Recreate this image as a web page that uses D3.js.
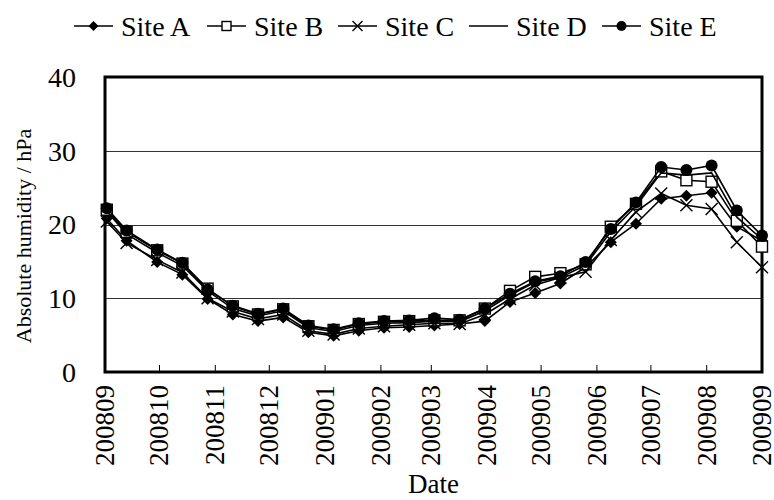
<!DOCTYPE html>
<html>
<head>
<meta charset="utf-8">
<script src="https://cdn.jsdelivr.net/npm/d3@7"></script>
<style>
  body { margin: 0; background: #fff; }
  svg { display: block; }
  svg text { font-family: "Liberation Serif", "Tinos", "DejaVu Serif", serif; fill: #000; }
</style>
</head>
<body>
<svg id="chart" width="774" height="500"></svg>
<script>
// sampling dates (roughly every two weeks)
const dates = [
  "2008-09-02", "2008-09-13", "2008-09-30", "2008-10-14", "2008-10-28",
  "2008-11-11", "2008-11-25", "2008-12-09", "2008-12-23", "2009-01-06",
  "2009-01-20", "2009-02-03", "2009-02-17", "2009-03-03", "2009-03-17",
  "2009-03-31", "2009-04-14", "2009-04-28", "2009-05-12", "2009-05-26",
  "2009-06-09", "2009-06-23", "2009-07-07", "2009-07-21", "2009-08-04",
  "2009-08-18", "2009-09-01",
];

const siteA = [20.8, 17.8, 14.9, 13.2, 9.9, 7.8, 6.9, 7.4, 5.4, 4.9, 5.6, 6.0, 6.1, 6.3, 6.5, 6.9, 9.5, 10.7, 12.0, 14.2, 17.6, 20.1, 23.5, 23.9, 24.3, 19.7, 17.8];
const siteB = [22.0, 19.0, 16.5, 14.7, 11.3, 8.9, 7.8, 8.5, 6.2, 5.7, 6.5, 6.8, 6.9, 7.0, 7.0, 8.6, 11.0, 12.9, 13.4, 14.6, 19.7, 22.8, 27.2, 26.0, 25.8, 20.5, 17.0];
const siteC = [20.4, 17.5, 15.2, 13.5, 10.0, 8.2, 7.2, 7.8, 5.6, 5.1, 5.9, 6.2, 6.4, 6.6, 6.5, 7.8, 9.9, 11.8, 12.8, 13.6, 17.9, 21.7, 24.2, 22.6, 22.1, 17.6, 14.2];
const siteD = [21.8, 18.7, 16.2, 14.4, 11.0, 8.6, 7.6, 8.3, 6.0, 5.5, 6.3, 6.6, 6.7, 6.9, 6.8, 8.3, 10.4, 12.2, 12.8, 14.5, 19.0, 22.5, 27.0, 26.7, 27.0, 21.0, 18.0];
const siteE = [22.2, 19.2, 16.6, 14.8, 11.2, 9.0, 7.9, 8.6, 6.3, 5.8, 6.6, 6.9, 7.0, 7.3, 7.1, 8.6, 10.6, 12.3, 13.0, 14.9, 19.4, 23.0, 27.8, 27.4, 28.0, 21.9, 18.5];

const seriesNames = ["Site A", "Site B", "Site C", "Site D", "Site E"];
const seriesValues = [siteA, siteB, siteC, siteD, siteE];
const seriesMarkers = ["diamond", "square", "cross", "none", "circle"];

const yTicks = [0, 10, 20, 30, 40];
const xTitle = "Date";
const yTitle = "Absolute humidity / hPa";

const parse = d3.timeParse("%Y-%m-%d");
const fmt = d3.timeFormat("%Y%m");

const svg = d3.select("#chart");
const plot = { left: 105, right: 762, top: 77, bottom: 372 };

const x = d3
  .scaleTime()
  .domain([new Date(2008, 8, 1), new Date(2009, 8, 1)])
  .range([plot.left, plot.right]);

const y = d3.scaleLinear().domain([0, 40]).range([plot.bottom, plot.top]);

// gridlines
svg
  .append("g")
  .selectAll("line")
  .data(yTicks.filter((t) => t > 0 && t < 40))
  .enter()
  .append("line")
  .attr("x1", plot.left)
  .attr("x2", plot.right)
  .attr("y1", (d) => Math.round(y(d)) + 0.5)
  .attr("y2", (d) => Math.round(y(d)) + 0.5)
  .style("stroke", "#333")
  .style("stroke-width", 1);

// x axis with inward ticks
const xAxis = d3
  .axisBottom(x)
  .ticks(d3.timeMonth.every(1))
  .tickFormat(fmt)
  .tickSizeInner(-7)
  .tickSizeOuter(0);

const gx = svg
  .append("g")
  .attr("transform", `translate(0,${plot.bottom})`)
  .call(xAxis);
gx.attr("font-family", null).attr("font-size", null);
gx.select(".domain").remove();
gx.selectAll(".tick line").style("stroke", "#000").style("stroke-width", 1);
gx.selectAll(".tick text")
  .attr("transform", "rotate(-90)")
  .attr("x", -13)
  .attr("y", 0)
  .attr("dy", "0.33em")
  .style("text-anchor", "end")
  .style("font-size", "27px")
  .style("fill", "#000");

// y tick labels
svg
  .append("g")
  .selectAll("text")
  .data(yTicks)
  .enter()
  .append("text")
  .attr("x", 76)
  .attr("y", (d) => y(d))
  .attr("dy", "0.35em")
  .style("text-anchor", "end")
  .style("font-size", "28px")
  .text((d) => d);

// heavy frame round the plot area
svg
  .append("rect")
  .attr("x", plot.left)
  .attr("y", plot.top)
  .attr("width", plot.right - plot.left)
  .attr("height", plot.bottom - plot.top)
  .style("fill", "none")
  .style("stroke", "#000")
  .style("stroke-width", 3);

// titles
svg
  .append("text")
  .attr("x", (plot.left + plot.right) / 2)
  .attr("y", 493)
  .style("text-anchor", "middle")
  .style("font-size", "27px")
  .text(xTitle);

svg
  .append("text")
  .attr("transform", `translate(31,236) rotate(-90)`)
  .style("text-anchor", "middle")
  .style("font-size", "22px")
  .text(yTitle);

function drawMarker(sel, kind, s) {
  if (kind === "diamond") {
    sel.append("path").attr("d", `M0,${-s} L${s},0 L0,${s} L${-s},0 Z`).style("fill", "#000");
  } else if (kind === "square") {
    sel
      .append("rect")
      .attr("x", -s + 0.5)
      .attr("y", -s + 0.5)
      .attr("width", 2 * s - 1)
      .attr("height", 2 * s - 1)
      .style("fill", "#fff")
      .style("stroke", "#000")
      .style("stroke-width", 1.4);
  } else if (kind === "cross") {
    sel
      .append("path")
      .attr("d", `M${-s},${-s} L${s},${s} M${-s},${s} L${s},${-s}`)
      .style("stroke", "#000")
      .style("stroke-width", 1.4);
  } else if (kind === "circle") {
    sel.append("circle").attr("r", s).style("fill", "#000");
  }
}

const line = d3
  .line()
  .x((d) => x(d.date))
  .y((d) => y(d.value));

seriesValues.forEach((vals, i) => {
  const pts = vals.map((v, j) => ({ date: parse(dates[j]), value: v }));
  const g = svg.append("g");
  g.append("path")
    .datum(pts)
    .attr("d", line)
    .style("fill", "none")
    .style("stroke", "#000")
    .style("stroke-width", 1.6);
  g.selectAll("g.mk")
    .data(pts)
    .enter()
    .append("g")
    .attr("class", "mk")
    .attr("transform", (d) => `translate(${x(d.date)},${y(d.value)})`)
    .each(function () {
      drawMarker(d3.select(this), seriesMarkers[i], 6);
    });
});

// legend
const legendX = [74, 207, 338, 469, 602];
const legend = svg.append("g");
seriesNames.forEach((name, i) => {
  const item = legend.append("g").attr("transform", `translate(${legendX[i]},26)`);
  item
    .append("line")
    .attr("x1", 0)
    .attr("x2", 39)
    .style("stroke", "#000")
    .style("stroke-width", 1.6);
  const mk = item.append("g").attr("transform", "translate(19.5,0)");
  drawMarker(mk, seriesMarkers[i], 5);
  item
    .append("text")
    .attr("x", 47)
    .attr("dy", "0.35em")
    .style("font-size", "28px")
    .text(name);
});
</script>
</body>
</html>
